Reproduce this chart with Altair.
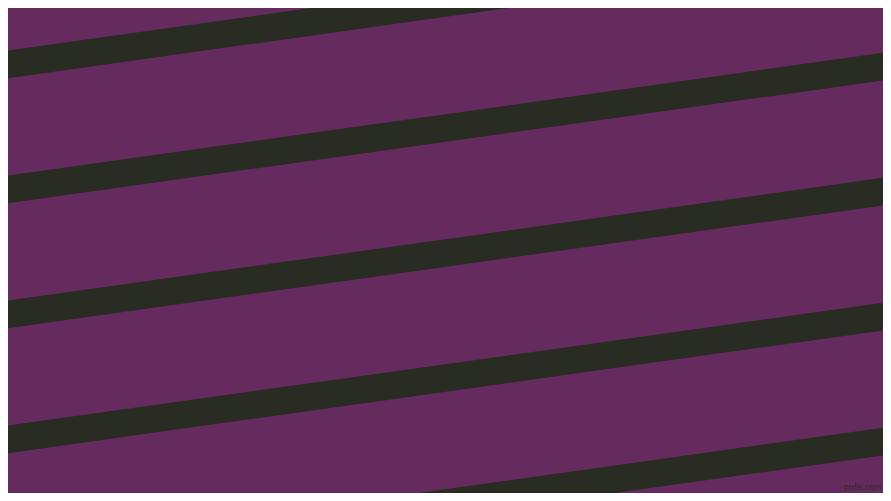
import altair as alt
import pandas as pd

# Stripe centre heights (px from top) read at the left edge (x=0) and right edge (x=891)
stripe_id = [1, 2, 3, 4, 5]
y_left = [65.5, 190.5, 315.5, 440.5, 565.5]
y_right = [-59.5, 65.5, 190.5, 315.5, 440.5]
x_left = 0
x_right = 891

BG = "#652A5E"
STRIPE = "#292C22"

rows = []
for s, yl, yr in zip(stripe_id, y_left, y_right):
    rows.append({"stripe": s, "x": x_left, "y": yl})
    rows.append({"stripe": s, "x": x_right, "y": yr})
df = pd.DataFrame(rows)

# page keeps an 8px body margin on every side: the plot shows the reference's 8..883 x 8..493 window
xs = alt.Scale(domain=[8, 883], nice=False, zero=False)
ys = alt.Scale(domain=[8, 493], nice=False, zero=False, reverse=True)

lines = alt.Chart(df).mark_line(
    color=STRIPE, strokeWidth=27.3, strokeCap="square", clip=True
).encode(
    x=alt.X("x:Q", scale=xs, axis=None),
    y=alt.Y("y:Q", scale=ys, axis=None),
    detail="stripe:N",
    order="x:Q",
)

wm = pd.DataFrame({"x": [881], "y": [487], "t": ["pixlis.com"]})
text = alt.Chart(wm).mark_text(
    align="right", baseline="middle", fontSize=8.5, font="Liberation Sans",
    color="#2b2b2b", clip=True
).encode(
    x=alt.X("x:Q", scale=xs, axis=None),
    y=alt.Y("y:Q", scale=ys, axis=None),
    text="t:N",
)

chart = alt.layer(lines, text).properties(
    width=875, height=485, background=BG, padding=0,
    autosize=alt.AutoSizeParams(type="none"),
).configure_view(stroke=None, fill=BG)

chart.save("out.html", embed_options={"renderer": "svg", "actions": False})
